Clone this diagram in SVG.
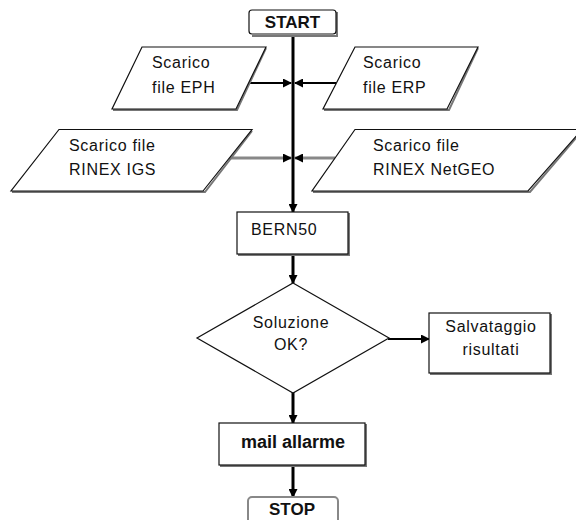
<svg xmlns="http://www.w3.org/2000/svg" width="576" height="520" viewBox="0 0 576 520">
<style>
text{font-family:"Liberation Sans",Arial,sans-serif;fill:#111;}
.t{font-size:16px;letter-spacing:0.7px;}
.b{font-size:17px;font-weight:bold;}
.m{font-size:18px;font-weight:bold;}
.shape{fill:#fff;stroke:#111;stroke-width:1.2;}
.shadow{fill:none;stroke:#777;stroke-width:2;}
.c{fill:none;stroke:#000;}
.g{fill:none;stroke:#888;stroke-width:3;}
</style>
<defs>
<marker id="ah" markerWidth="9" markerHeight="9" refX="8" refY="4.5" orient="auto" markerUnits="userSpaceOnUse">
<path d="M0,0 L9,4.5 L0,9 Z" fill="#000"/>
</marker>
</defs>
<rect width="576" height="520" fill="#fff"/>
<g id="connectors">
<line class="c" x1="293" y1="35" x2="293" y2="212" stroke-width="3" marker-end="url(#ah)"/>
<line class="c" x1="249" y1="83" x2="291" y2="83" stroke-width="2" marker-end="url(#ah)"/>
<line class="c" x1="336" y1="83" x2="295" y2="83" stroke-width="2" marker-end="url(#ah)"/>
<line class="g" x1="229" y1="158" x2="291" y2="158" marker-end="url(#ah)"/>
<line class="g" x1="335" y1="158" x2="295" y2="158" marker-end="url(#ah)"/>
<line class="c" x1="293" y1="254" x2="293" y2="283" stroke-width="3" marker-end="url(#ah)"/>
<line class="c" x1="388" y1="339" x2="429" y2="339" stroke-width="2" marker-end="url(#ah)"/>
<line class="c" x1="293" y1="392" x2="293" y2="423" stroke-width="3" marker-end="url(#ah)"/>
<line class="c" x1="293" y1="465" x2="293" y2="497" stroke-width="3" marker-end="url(#ah)"/>
</g>
<g id="start">
<path class="shadow" d="M337,12 V36 H252" stroke="#222" stroke-width="2"/>
<rect class="shape" x="249" y="10" width="87" height="24" rx="3"/>
<text class="b" x="292.5" y="28" text-anchor="middle">START</text>
</g>
<g id="eph">
<path class="shadow" d="M266,48 L237,110 H113"/>
<polygon class="shape" points="142,47 266,47 236,109 112,109"/>
<text class="t" x="152" y="68">Scarico</text>
<text class="t" x="152" y="93">file EPH</text>
</g>
<g id="erp">
<path class="shadow" d="M478,48 L449,110 H324"/>
<polygon class="shape" points="355,47 478,47 447,109 323,109"/>
<text class="t" x="363" y="68">Scarico</text>
<text class="t" x="363" y="93">file ERP</text>
</g>
<g id="igs">
<path class="shadow" d="M252,131 L205,192 H12"/>
<polygon class="shape" points="59,129.5 252,129.5 203,191 11,191"/>
<text class="t" x="69" y="151">Scarico file</text>
<text class="t" x="69" y="175">RINEX IGS</text>
</g>
<g id="netgeo">
<path class="shadow" d="M582,131 L530,192 H313"/>
<polygon class="shape" points="355,129.5 582,129.5 528,191 312,191"/>
<text class="t" x="373" y="151">Scarico file</text>
<text class="t" x="373" y="175">RINEX NetGEO</text>
</g>
<g id="bern50">
<path class="shadow" d="M349,213 V255 H238" stroke="#222"/>
<rect class="shape" x="237" y="212" width="111" height="42"/>
<text class="t" x="251" y="235">BERN50</text>
</g>
<g id="soluzione">
<polygon class="shape" points="293,283 389,338 293,393 197,338" stroke-width="1.5" stroke="#444"/>
<text class="t" x="291" y="328" text-anchor="middle">Soluzione</text>
<text class="t" x="291" y="350" text-anchor="middle">OK?</text>
</g>
<g id="salvataggio">
<path class="shadow" d="M551,314 V374 H430" stroke="#222"/>
<rect class="shape" x="429" y="313" width="121" height="60"/>
<text class="t" x="491" y="332" text-anchor="middle">Salvataggio</text>
<text class="t" x="491" y="355" text-anchor="middle">risultati</text>
</g>
<g id="mail">
<path class="shadow" d="M366,424 V466 H220" stroke="#222"/>
<rect class="shape" x="219" y="423" width="146" height="42"/>
<text class="m" x="293" y="448" text-anchor="middle">mail allarme</text>
</g>
<g id="stop">
<rect x="248" y="497" width="90" height="40" rx="4" fill="#fff" stroke="#888" stroke-width="2"/>
<text class="b" x="292" y="515" text-anchor="middle">STOP</text>
</g>
</svg>
